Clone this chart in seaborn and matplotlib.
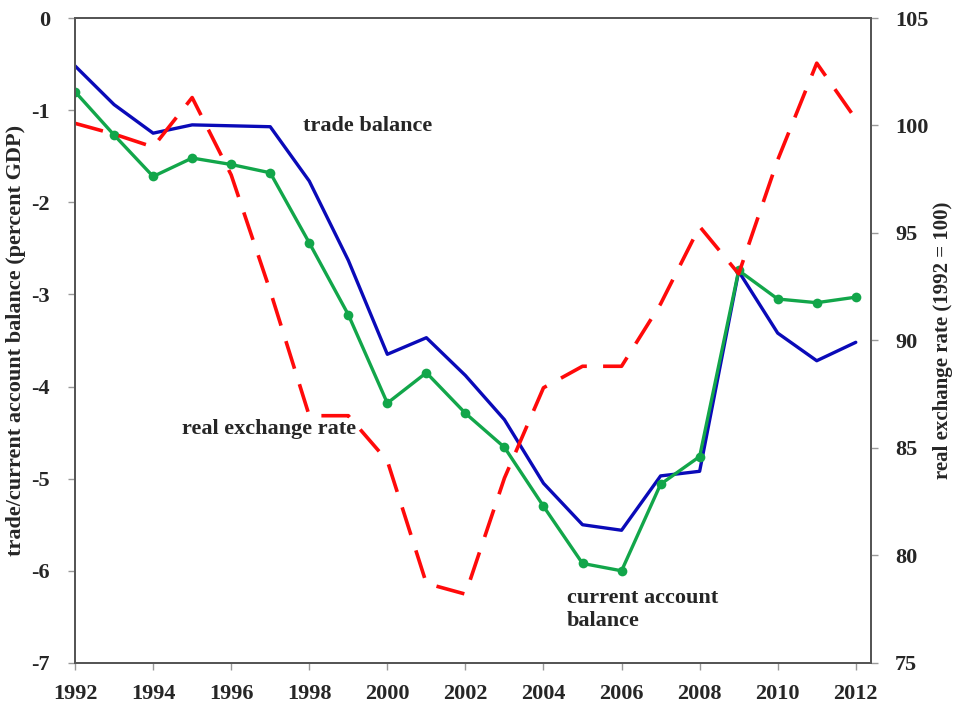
import matplotlib
matplotlib.use("Agg")
import matplotlib.pyplot as plt
import numpy as np
import pandas as pd
import seaborn as sns

years = list(range(1992, 2013))

# percent of GDP
trade_balance = [-0.52, -0.94, -1.25, -1.16, -1.17, -1.18, -1.77, -2.63, -3.65, -3.47,
                 -3.88, -4.36, -5.05, -5.50, -5.56, -4.97, -4.92, -2.75, -3.42, -3.72, -3.52]
current_account = [-0.80, -1.27, -1.72, -1.52, -1.59, -1.68, -2.44, -3.22, -4.18, -3.85,
                   -4.29, -4.66, -5.30, -5.92, -6.00, -5.06, -4.76, -2.74, -3.05, -3.09, -3.03]
# 1992 = 100
real_exchange_rate = [100.1, 99.6, 99.0, 101.3, 97.7, 92.3, 86.5, 86.5, 84.4, 78.7,
                      78.2, 83.6, 87.8, 88.8, 88.8, 91.7, 95.3, 93.1, 98.4, 102.9, 100.3]

df = pd.DataFrame({"year": years, "trade": trade_balance,
                   "ca": current_account, "rer": real_exchange_rate})

sns.set_theme(style="ticks")
plt.rcParams["font.family"] = ["Liberation Serif", "DejaVu Serif"]
plt.rcParams["font.weight"] = "bold"
plt.rcParams["axes.unicode_minus"] = False

fig = plt.figure(figsize=(9.56, 7.06), dpi=100)
ax = fig.add_axes([0.0785, 0.061, 0.833, 0.9135])
ax2 = ax.twinx()

sns.lineplot(data=df, x="year", y="trade", ax=ax, color="#0A0AB8", lw=2.4)
sns.lineplot(data=df, x="year", y="ca", ax=ax, color="#12A64A", lw=2.4,
             marker="o", markersize=7, markeredgewidth=0)
sns.lineplot(data=df, x="year", y="rer", ax=ax2, color="#FF0A0A", lw=2.6)
ax2.lines[0].set_dashes([8, 4.5])

ax.set_xlim(1992, 2012.4)
ax.set_ylim(-7, 0)
ax2.set_ylim(75, 105)
ax.set_xticks(range(1992, 2013, 2))
ax.set_yticks(range(-7, 1))
ax2.set_yticks(range(75, 106, 5))

for a in (ax, ax2):
    a.tick_params(labelsize=16, length=5, width=1, color="#999999", direction="out")
    for lab in a.get_xticklabels() + a.get_yticklabels():
        lab.set_fontweight("bold")
    for s in a.spines.values():
        s.set_color("#555555")
        s.set_linewidth(1.3)
        s.set_visible(True)
ax.tick_params(axis="x", pad=10)
ax.tick_params(axis="y", pad=13)
ax2.tick_params(axis="y", pad=12)

ax.set_xlabel("")
ax.set_ylabel("trade/current account balance (percent GDP)", fontsize=16,
              fontweight="bold", labelpad=4)
ax2.set_ylabel("real exchange rate (1992 = 100)", fontsize=15,
               fontweight="bold", labelpad=3)

ax.text(1997.85, -1.17, "trade balance", fontsize=16, fontweight="bold", va="center")
ax.text(1994.75, -4.46, "real exchange rate", fontsize=16, fontweight="bold", va="center")
ax.text(2004.6, -6.42, "current account\nbalance", fontsize=16, fontweight="bold",
        va="center", linespacing=1.2)

plt.savefig("out.png", dpi=100)
plt.close()
